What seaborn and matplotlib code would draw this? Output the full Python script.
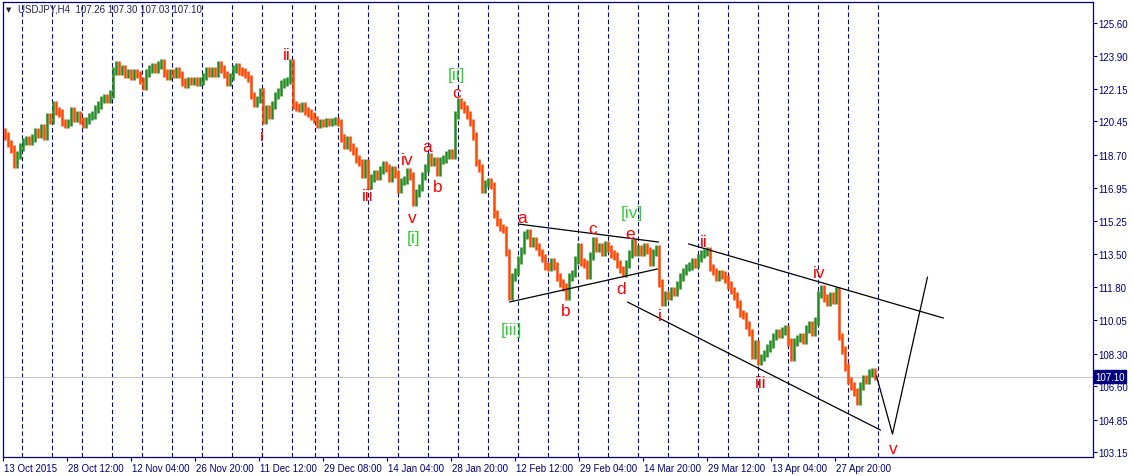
import numpy as np
import pandas as pd
import matplotlib
matplotlib.use("Agg")
import matplotlib.pyplot as plt
import matplotlib.transforms as mtransforms
import seaborn as sns

# ---------------- data ----------------
header_text = "USDJPY,H4  107.26 107.30 107.03 107.10"
last_price = 107.10
series_start = "2015-10-13 20:00"
series_end_day = "2016-05-13"
holidays = ["2015-12-25", "2016-01-01"]
short_days = ["2015-12-24", "2015-12-31"]
bars_per_period = 3  # each value below = close of a 12h block of H4 bars

closes_oct_dec = [
    119.7, 119.3, 119.0, 118.2, 118.7, 119.1, 119.4, 119.5, 119.4, 119.6,
    119.9, 119.8, 120.1, 119.7, 120.7, 120.5, 121.3, 121.0, 120.9, 120.4,
    120.3, 120.4, 121.0, 120.6, 120.8, 120.5, 120.3, 120.5, 120.7, 120.8,
    121.1, 121.3, 121.6, 121.7, 121.6, 121.9, 123.1, 123.4, 123.1, 123.2,
    122.9, 123.0, 122.8, 123.0, 122.9, 122.6, 122.3, 123.0, 123.2, 123.3,
    123.2, 123.4, 123.5, 123.0, 122.8, 123.0, 122.9, 123.1, 122.9, 122.5,
    122.4, 122.6, 122.55, 122.6, 122.5, 122.55,
]
closes_dec_jan = [
    122.8, 123.1, 123.0, 123.1, 122.95, 123.4, 123.2, 122.9, 122.5, 122.8,
    123.2, 123.3, 123.1, 123.05, 122.9, 122.7, 121.8, 121.4, 121.6, 122.0,
    120.5, 121.1, 120.8, 121.3, 121.8, 122.0, 122.4, 122.5, 122.6, 123.5,
    121.3, 121.2, 121.15, 121.25, 121.0, 120.9, 120.75, 120.55, 120.3, 120.4,
    120.35, 120.45, 120.4, 120.45, 120.5, 120.4, 119.6, 119.2, 119.5, 119.1,
    118.9, 118.5, 118.3, 117.7, 118.3, 117.1, 117.5, 117.7, 117.6, 117.9,
    118.2, 118.0, 117.5, 117.9, 117.7,
]
closes_jan_feb = [
    116.9, 117.3, 117.4, 117.8, 117.6, 116.2, 116.7, 117.0, 117.6, 118.0,
    118.6, 118.3, 118.4, 117.8, 118.4, 118.5, 118.7, 118.8, 118.7, 120.8,
    121.5, 121.3, 121.1, 120.8, 120.4, 119.7, 118.3, 118.0, 116.9, 117.2,
    117.3, 117.1, 115.6, 115.2, 114.9, 114.8, 113.6, 111.3, 112.3, 112.6,
    113.2, 113.7, 114.5, 114.6, 114.1, 114.2, 113.9, 113.6, 113.3, 112.9,
    112.8, 113.1, 112.9, 112.3, 112.0, 111.8, 111.3, 112.3,
]
closes_feb_apr = [
    112.5, 113.2, 113.9, 113.1, 113.0, 112.4, 113.4, 114.2, 113.8, 113.9,
    113.6, 114.0, 113.8, 113.5, 113.4, 113.0, 112.7, 112.5, 113.0, 113.5,
    114.1, 113.6, 113.8, 113.6, 113.9, 113.7, 113.1, 113.6, 113.8, 112.0,
    111.0, 111.4, 111.3, 111.6, 111.5, 111.9, 112.3, 112.6, 112.8, 112.9,
    113.1, 113.0, 113.3, 113.5, 113.6, 113.7, 112.8, 112.6, 112.3, 112.5,
    112.4, 112.2, 111.9, 111.6, 111.3, 110.9, 110.4,
]
closes_apr_may = [
    110.3, 109.8, 109.4, 108.2, 108.8, 107.9, 108.1, 108.3, 108.6, 108.8,
    109.2, 109.4, 109.3, 109.5, 109.6, 108.9, 108.1, 108.9, 109.1, 109.2,
    109.0, 109.6, 109.8, 109.4, 110.0, 111.4, 111.7, 111.2, 111.0, 111.3,
    111.1, 111.6, 109.2, 108.5, 107.6, 106.9, 106.6, 106.3, 105.8, 106.6,
    107.0, 106.9, 107.3, 107.35, 107.10,
]
closes = closes_oct_dec + closes_dec_jan + closes_jan_feb + closes_feb_apr + closes_apr_may
first_open = 119.9

x_tick_labels = ["13 Oct 2015", "28 Oct 12:00", "12 Nov 04:00", "26 Nov 20:00",
                 "11 Dec 12:00", "29 Dec 08:00", "14 Jan 04:00", "28 Jan 20:00",
                 "12 Feb 12:00", "29 Feb 04:00", "14 Mar 20:00", "29 Mar 12:00",
                 "13 Apr 04:00", "27 Apr 20:00"]
x_label_step = 64  # bars between time labels
y_ticks = [125.60, 123.90, 122.15, 120.45, 118.70, 116.95, 115.25, 113.50,
           111.80, 110.05, 108.30, 106.60, 104.85, 103.15]

# drawn objects (bar index, price)
tri_upper_bars, tri_upper_px = [515, 655], [115.08, 114.14]
tri_lower_bars, tri_lower_px = [506, 654], [111.00, 112.73]
wedge_upper_bars, wedge_upper_px = [685, 940], [114.04, 110.16]
wedge_lower_bars, wedge_lower_px = [624, 877], [111.00, 104.30]
proj_bars, proj_px = [873, 889, 924], [107.13, 104.09, 112.31]

wave_text = ["i", "ii", "iii", "iv", "v", "[i]", "a", "b", "[ii]", "c",
             "a", "[iii]", "b", "c", "[iv]", "e", "d",
             "i", "ii", "iii", "iv", "v"]
wave_bar = [258, 283, 364, 404, 409, 410, 424, 434, 453, 453,
            519, 508, 562, 589, 628, 627, 618,
            656, 700, 757, 816, 890]
wave_price = [119.69, 123.93, 116.55, 118.48, 115.40, 114.40, 119.16, 117.07, 122.88, 121.99,
              115.40, 109.54, 110.58, 114.87, 115.71, 114.61, 111.73,
              110.27, 114.19, 106.81, 112.57, 103.36]
wave_color = ["red", "red", "red", "red", "red", "green", "red", "red", "green", "red",
              "red", "green", "red", "red", "green", "red", "red",
              "red", "red", "red", "red", "red"]

# ---------------- style ----------------
sns.set_style("white")
plt.rcParams["font.family"] = ["Liberation Sans", "DejaVu Sans"]

NAVY = "#000080"
UP = "#228B22"
DOWN = "#FF4500"
LABEL_COLORS = {"red": "#FF0000", "green": "#32CD32"}

# H4 time index
days = pd.bdate_range(series_start[:10], series_end_day)
times = []
for d in days:
    ds = d.strftime("%Y-%m-%d")
    if ds in holidays:
        continue
    hours = [0, 4, 8, 12, 16, 20]
    if ds in short_days:
        hours = hours[:-1]
    for h in hours:
        t = d + pd.Timedelta(hours=h)
        if t >= pd.Timestamp(series_start):
            times.append(t)
times = pd.DatetimeIndex(times)
weeks = times.to_period("W")
sep_idx = np.where(weeks[1:] != weeks[:-1])[0] + 1

closes_arr = np.array(closes)
opens_arr = np.concatenate([[first_open], closes_arr[:-1]])
xpos = np.arange(len(closes_arr)) * bars_per_period + 1
wick = 0.2
lo = np.minimum(opens_arr, closes_arr) - wick
hi = np.maximum(opens_arr, closes_arr) + wick
cols = np.where(closes_arr > opens_arr, UP, np.where(closes_arr < opens_arr, DOWN, "black"))

W, H = 1133, 477
fig = plt.figure(figsize=(W / 100, H / 100), dpi=100)
ax = fig.add_axes([3 / W, 19 / H, 1090 / W, 455 / H])
ax.set_facecolor("white")
ax.set_xlim(-0.5, 1089.5)
ax.set_ylim(102.89, 126.70)

# weekly separators
for s in sep_idx:
    ax.axvline(s - 0.5, color="#0000A0", lw=0.8, ls=(0, (4, 2.5)), zorder=1)

ax.axhline(last_price, color="#C8C8C8", lw=0.8, zorder=1)

ax.vlines(xpos, lo, hi, colors=cols, linewidth=1.8, zorder=3)

for bx, py in [(tri_upper_bars, tri_upper_px), (tri_lower_bars, tri_lower_px),
               (wedge_upper_bars, wedge_upper_px), (wedge_lower_bars, wedge_lower_px),
               (proj_bars, proj_px)]:
    sns.lineplot(x=bx, y=py, ax=ax, color="black", lw=0.9, sort=False,
                 estimator=None, legend=False, zorder=4)

for t, bx, py, c in zip(wave_text, wave_bar, wave_price, wave_color):
    ax.text(bx, py, t, color=LABEL_COLORS[c], fontsize=12.5, ha="center", va="center", zorder=5)

for sp in ax.spines.values():
    sp.set_color(NAVY)
    sp.set_linewidth(0.9)

ax.yaxis.tick_right()
ax.set_yticks(y_ticks)
ax.set_yticklabels([f"{v:.2f}" for v in y_ticks])
ax.set_xticks(np.arange(len(x_tick_labels)) * x_label_step - 0.5)
ax.set_xticklabels(x_tick_labels)
ax.tick_params(axis="both", direction="out", length=3, width=0.8, color=NAVY,
               labelcolor=NAVY, labelsize=7, pad=1.0)
ax.tick_params(axis="y", left=False, right=True)
ax.tick_params(axis="x", bottom=True)
off = mtransforms.ScaledTranslation(1 / 100, 0, fig.dpi_scale_trans)
for lab in ax.get_xticklabels():
    lab.set_ha("left")
    lab.set_transform(lab.get_transform() + off)
ax.set_xlabel("")
ax.set_ylabel("")
ax.grid(False)

# last price box
trans = mtransforms.blended_transform_factory(ax.transAxes, ax.transData)
ax.text(1.0 + 2 / 1090, last_price, f"{last_price:.2f}", transform=trans, ha="left", va="center",
        color="white", fontsize=7, zorder=6, clip_on=False,
        bbox=dict(boxstyle="square,pad=0.15", fc=NAVY, ec=NAVY))

# header
fig.text(6 / W, 1 - 10 / H, "\u25BC", fontsize=5, color="#202040", va="center", ha="left",
         family=["DejaVu Sans"])
fig.text(18 / W, 1 - 10 / H, header_text, fontsize=7, color="#202060", va="center", ha="left")

fig.savefig("out.png", dpi=100, facecolor="white")
